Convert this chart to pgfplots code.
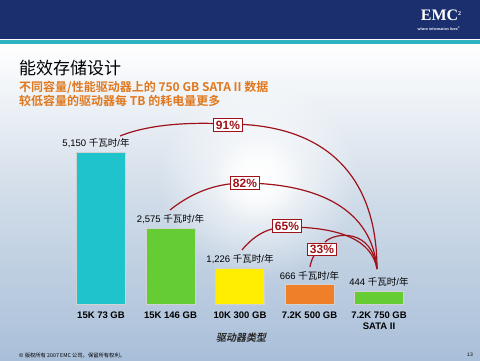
\documentclass[border=0pt]{standalone}
\usepackage{pgfplots}
\pgfplotsset{compat=1.18}
\usepackage{fontspec}
\setmainfont{Liberation Sans}
\newfontfamily\serifemc{Liberation Serif}
\newfontfamily\cjk[BoldFont={Noto Sans CJK SC Bold}]{Noto Sans CJK SC}
\newfontfamily\cjkbi[FakeSlant=0.2]{Noto Sans CJK SC Bold}
\usetikzlibrary{fadings}
\tikzfading[name=sunfade, inner color=transparent!0, outer color=transparent!100]
\definecolor{navy}{HTML}{1B2F6F}
\definecolor{hdrteal}{HTML}{2FB3C3}
\definecolor{c1}{HTML}{1EC3CB}
\definecolor{c2}{HTML}{66CC33}
\definecolor{c3}{HTML}{FFEE00}
\definecolor{c4}{HTML}{F07F2A}
\definecolor{arcred}{HTML}{A0121A}
\definecolor{subor}{HTML}{E0781E}
\definecolor{skybot}{HTML}{A9BFD9}
\definecolor{skymid}{HTML}{CFDBE8}
\begin{document}
\begin{tikzpicture}[x=1pt,y=1pt]
% background
\fill[white] (0,0) rectangle (480,360);
\shade[top color=white, bottom color=skybot, middle color=skymid] (0,0) rectangle (480,316);
\fill[white, path fading=sunfade] (258,182) circle (100);
\fill[white, path fading=sunfade] (258,182) circle (45);
% header
\fill[navy] (0,321) rectangle (480,360);
\fill[hdrteal] (0,316) rectangle (480,320.5);
\node[white, font=\serifemc\bfseries\fontsize{16}{16}\selectfont] at (441,345) {EMC\raisebox{5pt}{\fontsize{6}{6}\selectfont 2}};
\node[white, font=\bfseries\fontsize{3.6}{4}\selectfont] at (439,331) {where information lives\textsuperscript{\textregistered}};
% titles
\node[anchor=west, inner sep=0pt, font=\cjk\fontsize{17}{17}\selectfont] at (19,292) {能效存储设计};
\node[anchor=west, inner sep=0pt, text=subor, font=\cjk\bfseries\fontsize{12}{12}\selectfont] at (19,273) {不同容量/性能驱动器上的 750 GB SATA II 数据};
\node[anchor=west, inner sep=0pt, text=subor, font=\cjk\bfseries\fontsize{12}{12}\selectfont] at (19,259) {较低容量的驱动器每 TB 的耗电量更多};
% chart
\begin{axis}[at={(66.25pt,56pt)}, anchor=south west, scale only axis,
  width=347.5pt, height=162.3pt,
  xmin=-0.5, xmax=4.5, ymin=0, ymax=5500,
  ybar, bar width=49pt, bar shift=0pt,
  axis line style={draw=none}, ytick=\empty,
  xtick={0,1,2,3,4}, major tick length=0pt,
  xticklabels={15K 73 GB,15K 146 GB,10K 300 GB,7.2K 500 GB,{7.2K 750 GB\\SATA II}},
  xticklabel style={font=\bfseries\fontsize{9.5}{11.5}\selectfont, align=center, yshift=-4pt},
  clip=false, point meta=y,
  nodes near coords={\pgfmathprintnumber[assume math mode=true,fixed,precision=0,1000 sep={,}]{\pgfplotspointmeta} {\cjk 千瓦时}/{\cjk 年}},
  nodes near coords style={font=\fontsize{9.5}{10}\selectfont, anchor=south, yshift=1pt, text=black},
  every axis plot/.append style={draw=white!65!gray, line width=0.4pt}]
\addplot[fill=c1, nodes near coords style={xshift=-5pt}] coordinates {(0,5150)};
\addplot[fill=c2] coordinates {(1,2575)};
\addplot[fill=c3] coordinates {(2,1226)};
\addplot[fill=c4] coordinates {(3,666)};
\addplot[fill=c2] coordinates {(4,444)};
\end{axis}
% arcs
\begin{scope}[arcred, line width=1.2pt]
\draw (120,224) .. controls (150,236) and (190,238) .. (228,236) .. controls (330,236) and (377,180) .. (377,91);
\draw (170,150) .. controls (195,170) and (220,177) .. (245,177) .. controls (320,176) and (372,150) .. (377,91);
\draw (242,110) .. controls (255,126) and (270,133) .. (287,133) .. controls (340,133) and (372,120) .. (377,91);
\draw (310,93) .. controls (312,104) and (316,108) .. (322,111);
\draw (325,118) .. controls (335,128) and (372,132) .. (377,91);
\end{scope}
\tikzset{pct/.style={draw=arcred, fill=white, line width=0.6pt, inner xsep=2.5pt, inner ysep=2pt, text=arcred, font=\bfseries\fontsize{12}{12}\selectfont}}
\node[pct] at (228,235) {91\%};
\node[pct] at (245,177) {82\%};
\node[pct] at (287,134) {65\%};
\node[pct] at (322,110.5) {33\%};
% axis title
\node[font=\cjkbi\fontsize{10}{10}\selectfont, text=black!85] at (241,22) {驱动器类型};
% footer
\node[anchor=west, inner sep=0pt, font=\cjk\fontsize{5.3}{6}\selectfont] at (19,5) {© 版权所有 2007 EMC 公司。保留所有权利。};
\node[inner sep=0pt, font=\fontsize{5}{5}\selectfont] at (470,5) {13};
\end{tikzpicture}
\end{document}
